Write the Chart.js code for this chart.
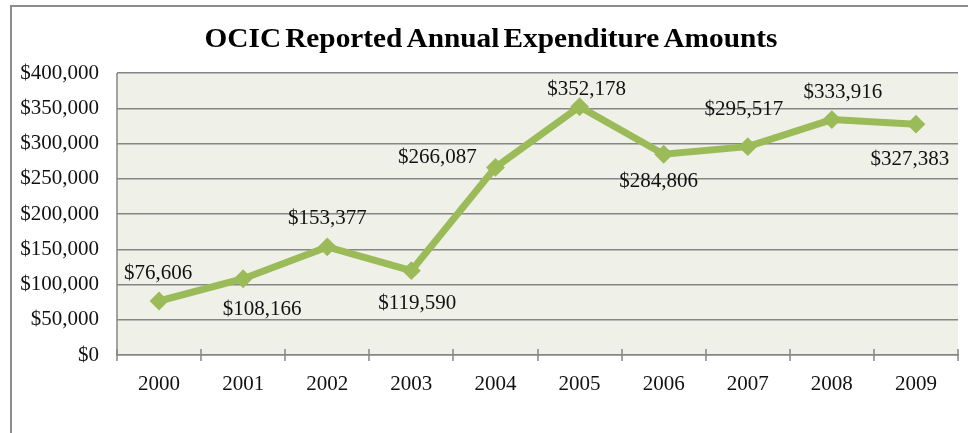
<!DOCTYPE html>
<html lang="en">
<head>
    <meta charset="UTF-8">
    <title>OCIC Reported Annual Expenditure Amounts</title>
    <script src="https://cdn.jsdelivr.net/npm/chart.js@4.4.0/dist/chart.umd.min.js"></script>
    <style>
        html, body { margin: 0; padding: 0; background: #ffffff; }
        #wrap { width: 968px; height: 433px; }
    </style>
</head>
<body>
    <div id="wrap"><canvas id="expense-chart" width="968" height="433"></canvas></div>

    <script>
        // chart data
        const years = ['2000', '2001', '2002', '2003', '2004', '2005', '2006', '2007', '2008', '2009'];
        const expenditure = [76606, 108166, 153377, 119590, 266087, 352178, 284806, 295517, 333916, 327383];
        const yTicks = [0, 50000, 100000, 150000, 200000, 250000, 300000, 350000, 400000];
        const chartTitle = 'OCIC Reported Annual Expenditure Amounts';

        // where each value label sits relative to its point (styling only)
        const labelOffsets = [
            [-1, -28], [19, 31], [0, -28], [6, 33], [-58, -10],
            [7, -17], [-5, 27], [-4, -37], [11, -27], [-6, 35]
        ];

        const fmtMoney = v => '$' + Number(v).toLocaleString('en-US');
        const serif = '"Liberation Serif", "Times New Roman", serif';

        const decorPlugin = {
            id: 'decor',
            beforeDraw(chart) {
                const ctx = chart.ctx;
                const a = chart.chartArea;
                ctx.save();
                // outer frame (only left & top visible in the crop)
                ctx.strokeStyle = '#8c8c8c';
                ctx.lineWidth = 2;
                ctx.beginPath();
                ctx.moveTo(11, chart.height);
                ctx.lineTo(11, 6);
                ctx.lineTo(chart.width, 6);
                ctx.stroke();
                // plot background
                ctx.fillStyle = '#eff1e9';
                ctx.fillRect(a.left, a.top, a.right - a.left, a.bottom - a.top);
                // title, tightly set like the original
                ctx.fillStyle = '#000000';
                ctx.font = 'bold 27px ' + serif;
                if ('wordSpacing' in ctx) ctx.wordSpacing = '-3px';
                ctx.textAlign = 'center';
                ctx.textBaseline = 'middle';
                const w = ctx.measureText(chartTitle).width;
                ctx.translate(491, 40);
                ctx.scale(573 / w, 1);
                ctx.fillText(chartTitle, 0, 0);
                ctx.restore();
            },
            afterDraw(chart) {
                const ctx = chart.ctx;
                const a = chart.chartArea;
                const xs = chart.scales.x;
                ctx.save();
                ctx.strokeStyle = '#868686';
                ctx.lineWidth = 1.5;
                // left axis line
                ctx.beginPath();
                ctx.moveTo(a.left, a.top);
                ctx.lineTo(a.left, a.bottom);
                ctx.stroke();
                // crossing tick marks at category boundaries
                const step = (a.right - a.left) / years.length;
                for (let i = 0; i <= years.length; i++) {
                    const x = Math.round(xs.getPixelForValue(0) - step / 2 + i * step);
                    ctx.beginPath();
                    ctx.moveTo(x, a.bottom - 6);
                    ctx.lineTo(x, a.bottom + 6);
                    ctx.stroke();
                }
                // value labels
                const meta = chart.getDatasetMeta(0);
                ctx.fillStyle = '#111111';
                ctx.font = '21px ' + serif;
                ctx.textAlign = 'center';
                ctx.textBaseline = 'middle';
                meta.data.forEach((pt, i) => {
                    const off = labelOffsets[i];
                    ctx.fillText(fmtMoney(expenditure[i]), pt.x + off[0], pt.y + off[1]);
                });
                ctx.restore();
            }
        };

        const ctx = document.getElementById('expense-chart').getContext('2d');
        new Chart(ctx, {
            type: 'line',
            data: {
                labels: years,
                datasets: [{
                    data: expenditure,
                    borderColor: '#9bbb59',
                    backgroundColor: '#9bbb59',
                    borderWidth: 7,
                    pointStyle: 'rectRot',
                    pointRadius: 8,
                    pointBorderWidth: 2,
                    pointBorderColor: '#9bbb59',
                    pointBackgroundColor: '#9bbb59',
                    tension: 0,
                    fill: false
                }]
            },
            options: {
                responsive: false,
                animation: false,
                layout: { padding: { left: 0, right: 8, top: 73, bottom: 0 } },
                plugins: {
                    legend: { display: false },
                    title: { display: false },
                    tooltip: { enabled: false }
                },
                scales: {
                    x: {
                        offset: true,
                        grid: { display: false },
                        border: { display: true, color: '#868686', width: 1.5 },
                        ticks: {
                            color: '#111111',
                            font: { family: serif, size: 21 },
                            padding: 9,
                            maxRotation: 0
                        },
                        afterFit(scale) { scale.height = 78; }
                    },
                    y: {
                        min: 0,
                        max: 400000,
                        afterBuildTicks(scale) { scale.ticks = yTicks.map(v => ({ value: v })); },
                        grid: { color: '#868686', lineWidth: 1.5, drawTicks: false },
                        border: { display: false },
                        ticks: {
                            color: '#111111',
                            font: { family: serif, size: 21 },
                            padding: 18,
                            callback: v => fmtMoney(v)
                        },
                        afterFit(scale) { scale.width = 117; }
                    }
                }
            },
            plugins: [decorPlugin]
        });
    </script>
</body>
</html>
